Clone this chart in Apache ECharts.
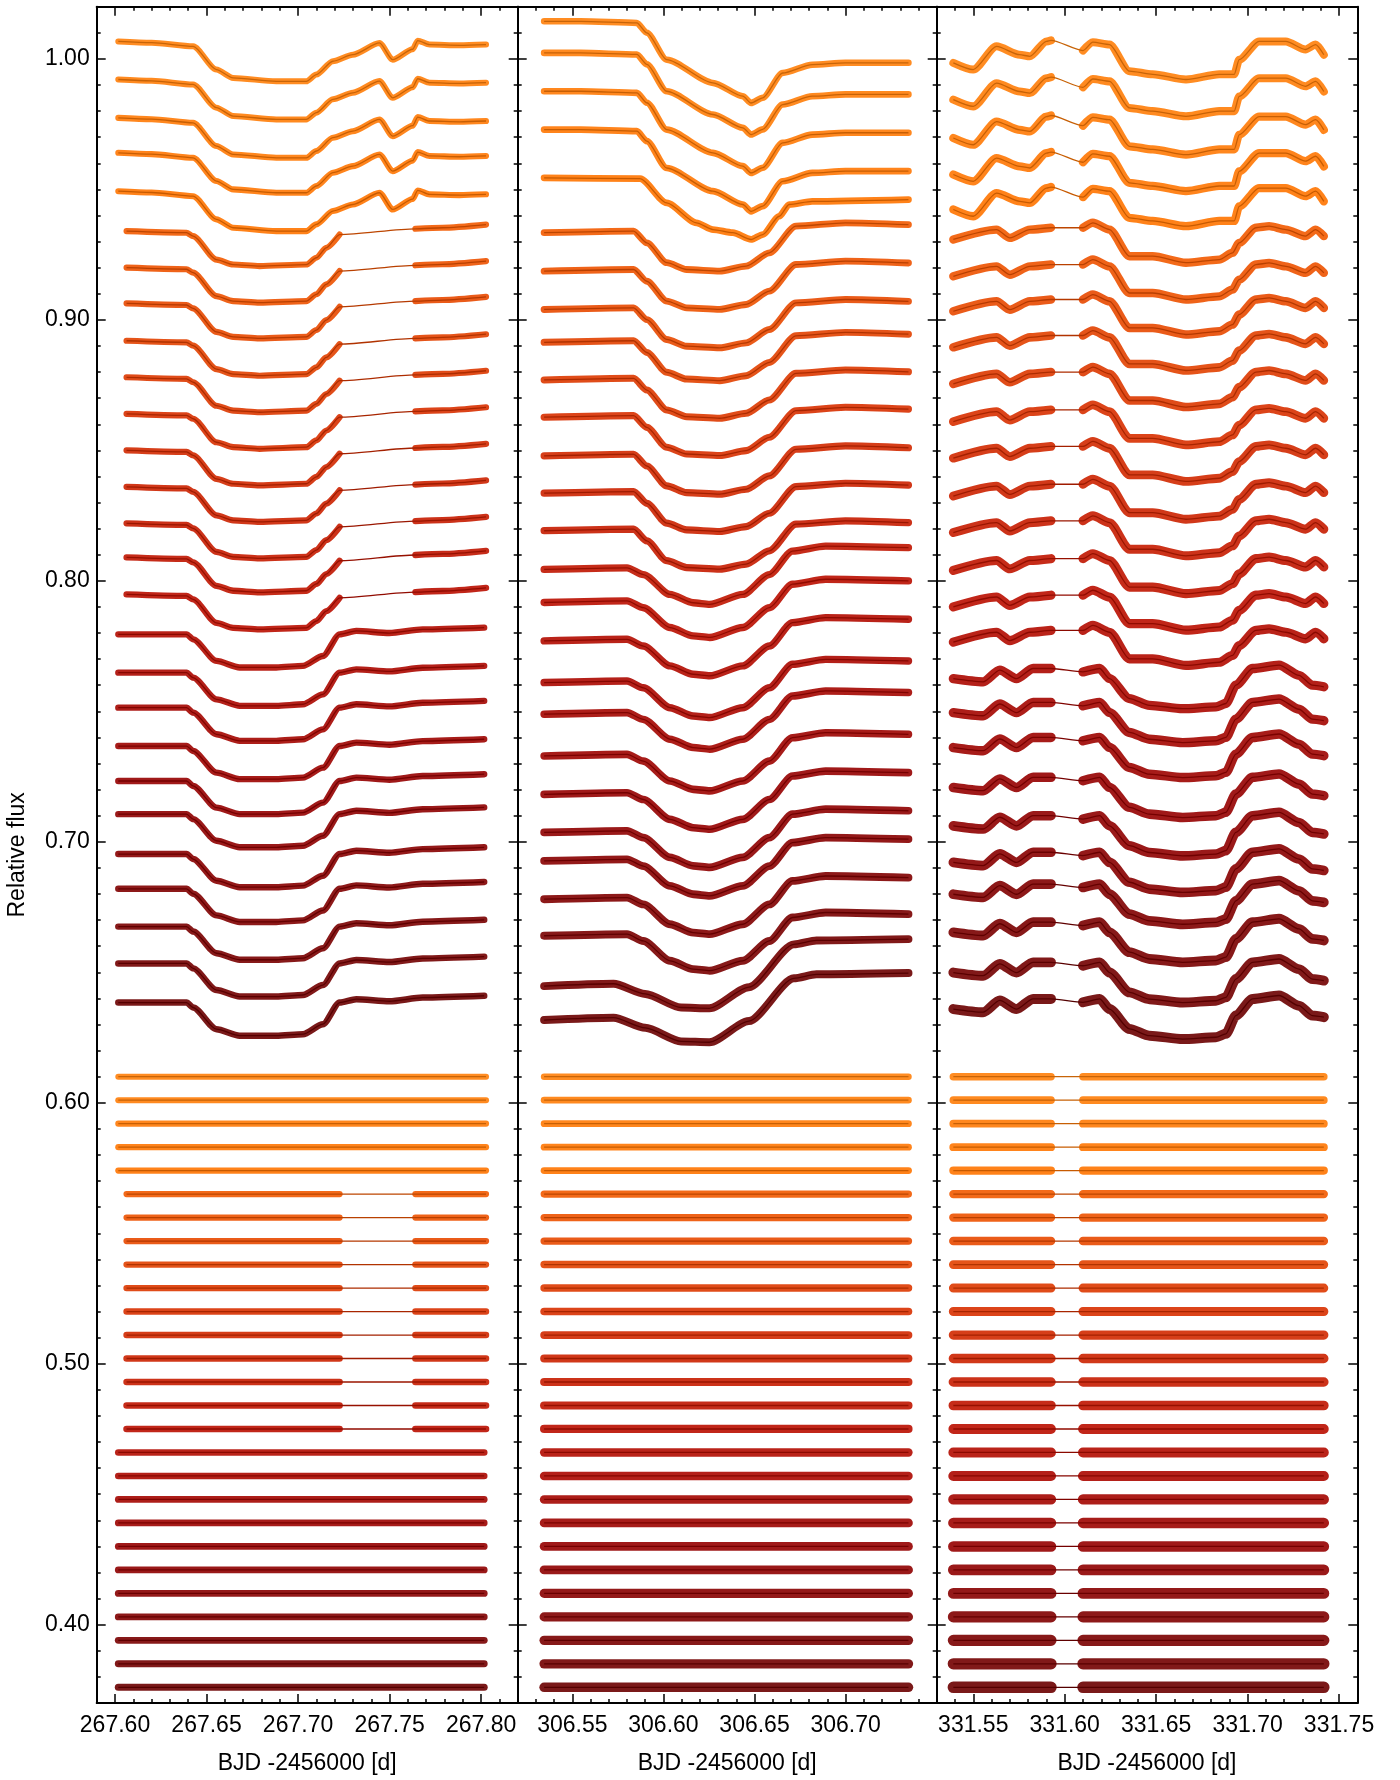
<!DOCTYPE html>
<html>
<head>
<meta charset="utf-8">
<script src="https://cdn.jsdelivr.net/npm/echarts@6/dist/echarts.min.js"></script>
<style>html,body{margin:0;padding:0;background:#fff}#chart{width:1400px;height:1780px}</style>
</head>
<body>
<div id="chart"></div>
<script>
// ---------------- DATA ----------------
// x ranges of the three panels (BJD - 2456000)
const xRange1 = [267.59, 267.82];
const xRange2 = [306.52, 306.75];
const xRange3 = [331.53, 331.76];
const xTicks1 = [267.60, 267.65, 267.70, 267.75, 267.80];
const xTicks2 = [306.55, 306.60, 306.65, 306.70];
const xTicks3 = [331.55, 331.60, 331.65, 331.70, 331.75];
const yRange = [0.37, 1.02];
const yTicks = [0.40, 0.50, 0.60, 0.70, 0.80, 0.90, 1.00];

// starting flux level of each of the 27 light curves (top to bottom)
const base1 = [1.0067, 0.9921, 0.9774, 0.9640, 0.9493, 0.9340, 0.9200, 0.9063, 0.8920, 0.8780, 0.8640, 0.8500, 0.8360, 0.8220, 0.8090, 0.7948, 0.7795, 0.7648, 0.7514, 0.7367, 0.7233, 0.7106, 0.6953, 0.6820, 0.6675, 0.6534, 0.6384];
const base2 = [1.0144, 1.0023, 0.9876, 0.9729, 0.9544, 0.9334, 0.9187, 0.9040, 0.8914, 0.8770, 0.8627, 0.8479, 0.8336, 0.8192, 0.8044, 0.7917, 0.7770, 0.7610, 0.7489, 0.7329, 0.7182, 0.7036, 0.6927, 0.6780, 0.6640, 0.6447, 0.6317];
const base3 = [0.9985, 0.9844, 0.9697, 0.9557, 0.9423, 0.9308, 0.9167, 0.9033, 0.8895, 0.8755, 0.8610, 0.8470, 0.8325, 0.8185, 0.8040, 0.7900, 0.7765, 0.7625, 0.7495, 0.7361, 0.7208, 0.7061, 0.6921, 0.6799, 0.6653, 0.6499, 0.6359];
// residual rows (same in the three panels)
const residBase = [0.610, 0.601, 0.592, 0.583, 0.574, 0.565, 0.556, 0.547, 0.538, 0.529, 0.520, 0.511, 0.502, 0.493, 0.484, 0.475, 0.466, 0.457, 0.448, 0.439, 0.430, 0.421, 0.412, 0.403, 0.394, 0.385, 0.376];

// which light-curve shape each row follows
const shape1 = ['A','A','A','A','A','B','B','B','B','B','B','B','B','B','B','B','C','C','C','C','C','C','C','C','C','C','C'];
const shape2 = ['A','A','A','A','E','B','B','B','B','B','B','B','B','B','C','C','C','C','C','C','C','C','C','C','C','D','D'];
const shape3 = ['A','A','A','A','A','B','B','B','B','B','B','B','B','B','B','B','B','C','C','C','C','C','C','C','C','C','C'];

// light-curve shapes: times and flux change relative to the starting level
const p1A_t  = [267.6018, 267.6200, 267.6427, 267.6554, 267.6645, 267.6881, 267.7045, 267.7100, 267.7190, 267.7299, 267.7445, 267.7517, 267.7626, 267.7654, 267.7718, 267.7881, 267.8027];
const p1A_dy = [0, -0.0005, -0.0019, -0.0108, -0.0140, -0.0153, -0.0153, -0.0127, -0.0076, -0.0051, -0.0006, -0.0070, -0.0030, 0.0003, -0.0012, -0.0015, -0.0012];
const p1B_t  = [267.6063, 267.6391, 267.6427, 267.6554, 267.6645, 267.6790, 267.7045, 267.7100, 267.7154, 267.7227, 267.7641, 267.7790, 267.8027];
const p1B_dy = [0, -0.0006, -0.0019, -0.0109, -0.0128, -0.0134, -0.0128, -0.0102, -0.0064, -0.0013, 0.0009, 0.0013, 0.0025];
const p1C_t  = [267.6018, 267.6391, 267.6427, 267.6554, 267.6681, 267.6881, 267.7027, 267.7136, 267.7227, 267.7318, 267.7499, 267.7681, 267.8017];
const p1C_dy = [0, 0, -0.0019, -0.0102, -0.0127, -0.0127, -0.0121, -0.0083, 0, 0.0013, 0.0005, 0.0019, 0.0026];

const p2A_t  = [306.5345, 306.5545, 306.5854, 306.5909, 306.6018, 306.6272, 306.6436, 306.6481, 306.6545, 306.6654, 306.6817, 306.6999, 306.7345];
const p2A_dy = [0, 0, -0.0006, -0.0044, -0.0147, -0.0236, -0.0287, -0.0313, -0.0293, -0.0198, -0.0166, -0.0159, -0.0159];
const p2E_t  = [306.5345, 306.5872, 306.6018, 306.6181, 306.6272, 306.6381, 306.6481, 306.6545, 306.6636, 306.6690, 306.6817, 306.7345];
const p2E_dy = [0, -0.0003, -0.0096, -0.0172, -0.0198, -0.0210, -0.0236, -0.0217, -0.0147, -0.0102, -0.0090, -0.0083];
const p2B_t  = [306.5345, 306.5836, 306.5909, 306.6018, 306.6127, 306.6309, 306.6454, 306.6581, 306.6727, 306.6999, 306.7345];
const p2B_dy = [0, 0.0006, -0.0039, -0.0115, -0.0141, -0.0147, -0.0128, -0.0077, 0.0025, 0.0038, 0.0031];
const p2C_t  = [306.5345, 306.5800, 306.5890, 306.6036, 306.6163, 306.6254, 306.6436, 306.6581, 306.6708, 306.6890, 306.7345];
const p2C_dy = [0, 0.0006, -0.0020, -0.0096, -0.0128, -0.0134, -0.0096, -0.0020, 0.0070, 0.0089, 0.0083];
const p2D_t  = [306.5345, 306.5726, 306.5900, 306.6097, 306.6252, 306.6469, 306.6716, 306.6840, 306.7345];
const p2D_dy = [0, 0.0009, -0.0030, -0.0082, -0.0085, -0.0004, 0.0160, 0.0175, 0.0180];

const p3A_t  = [331.5391, 331.5500, 331.5627, 331.5754, 331.5809, 331.5900, 331.5925, 331.6100, 331.6154, 331.6245, 331.6354, 331.6481, 331.6663, 331.6845, 331.6927, 331.6954, 331.7063, 331.7209, 331.7317, 331.7372, 331.7417];
const p3A_dy = [0, -0.0026, 0.0063, 0.0031, 0.0025, 0.0082, 0.0086, 0.0047, 0.0079, 0.0070, -0.0032, -0.0044, -0.0064, -0.0044, -0.0044, 0.0012, 0.0082, 0.0082, 0.0051, 0.0070, 0.0031];
const p3B_t  = [331.5391, 331.5627, 331.5700, 331.5809, 331.5925, 331.6100, 331.6154, 331.6245, 331.6354, 331.6481, 331.6663, 331.6845, 331.6918, 331.6954, 331.7045, 331.7118, 331.7209, 331.7317, 331.7372, 331.7417];
const p3B_dy = [0, 0.0038, 0.0006, 0.0038, 0.0045, 0.0045, 0.0064, 0.0038, -0.0064, -0.0064, -0.0089, -0.0077, -0.0051, -0.0013, 0.0045, 0.0051, 0.0038, 0.0013, 0.0038, 0.0013];
const p3C_t  = [331.5391, 331.5554, 331.5645, 331.5736, 331.5827, 331.5925, 331.6100, 331.6191, 331.6245, 331.6354, 331.6463, 331.6645, 331.6827, 331.6881, 331.6936, 331.7027, 331.7172, 331.7281, 331.7354, 331.7417];
const p3C_dy = [0, -0.0012, 0.0033, 0, 0.0039, 0.0039, 0.0026, 0.0039, 0, -0.0076, -0.0102, -0.0115, -0.0108, -0.0095, -0.0025, 0.0039, 0.0052, 0.0013, -0.0025, -0.0031];

// data gaps (no observations): panel 1 only for shape B, panel 3 for every row
const gap1 = [267.7227, 267.7641];
const gap3 = [331.5925, 331.6100];

// ---------------- BUILD ----------------
const FONT = 'Liberation Sans, Arial, Helvetica, sans-serif';
const FS = 23;
const panels = [
  {range: xRange1, ticks: xTicks1, base: base1, shape: shape1, gap: gap1,
   shapes: {A: [p1A_t, p1A_dy], B: [p1B_t, p1B_dy], C: [p1C_t, p1C_dy]}, gapShapes: ['B'],
   band: 6, bextra: 0.5, rband: 6, rextra: 1},
  {range: xRange2, ticks: xTicks2, base: base2, shape: shape2, gap: null,
   shapes: {A: [p2A_t, p2A_dy], B: [p2B_t, p2B_dy], C: [p2C_t, p2C_dy], D: [p2D_t, p2D_dy], E: [p2E_t, p2E_dy]}, gapShapes: [],
   band: 6.5, bextra: 1.5, rband: 6.5, rextra: 3},
  {range: xRange3, ticks: xTicks3, base: base3, shape: shape3, gap: gap3,
   shapes: {A: [p3A_t, p3A_dy], B: [p3B_t, p3B_dy], C: [p3C_t, p3C_dy]}, gapShapes: ['A','B','C'],
   band: 8, bextra: 2, rband: 7.5, rextra: 4}
];

// colour ramp (style): bright orange at the top, dark red at the bottom
const anchors = [[0,[255,128,10]],[4,[255,116,0]],[5,[242,90,0]],[10,[216,48,0]],[15,[186,14,0]],[20,[150,0,0]],[26,[108,0,0]]];
function rowColor(i, f) {
  let a = anchors[0], b = anchors[anchors.length-1];
  for (let k = 0; k < anchors.length-1; k++) {
    if (i >= anchors[k][0] && i <= anchors[k+1][0]) { a = anchors[k]; b = anchors[k+1]; break; }
  }
  const u = b[0] === a[0] ? 0 : (i - a[0]) / (b[0] - a[0]);
  const c = a[1].map((v, j) => Math.round((v + (b[1][j] - v) * u) * f));
  return 'rgb(' + c.join(',') + ')';
}

function withGap(pts, gap) {
  if (!gap) return pts;
  const out = [];
  for (let k = 0; k < pts.length; k++) {
    out.push(pts[k]);
    const n = pts[k+1];
    if (n && pts[k][0] <= gap[0] + 1e-6 && n[0] >= gap[1] - 1e-6) out.push([(pts[k][0]+n[0])/2, '-']);
  }
  return out;
}

const grids = [], xAxes = [], yAxes = [], series = [];
const gridLeft = [96.7, 517.7, 936.7];
const gridWidth = [421, 419, 420.6];
const TOP = 6.7, HEIGHT = 1697.6;
const axisLineStyle = {color: '#000', width: 2};

panels.forEach((p, g) => {
  grids.push({left: gridLeft[g], top: TOP, width: gridWidth[g], height: HEIGHT, containLabel: false});
  ['bottom', 'top'].forEach(pos => {
    xAxes.push({gridIndex: g, type: 'value', position: pos, min: p.range[0], max: p.range[1], interval: 0.01,
      axisLine: {show: true, onZero: false, lineStyle: axisLineStyle},
      axisTick: {show: true, inside: true, length: 4, lineStyle: {color: '#000', width: 1.5}},
      axisLabel: {show: false}, splitLine: {show: false}});
    const major = {gridIndex: g, type: 'value', position: pos, min: p.range[0], max: p.range[1],
      axisLine: {show: false, onZero: false},
      axisTick: {show: true, inside: true, length: 9, customValues: p.ticks, lineStyle: {color: '#000', width: 1.5}},
      axisLabel: {show: pos === 'bottom', customValues: p.ticks, formatter: v => v.toFixed(2),
        fontSize: FS, color: '#000', fontFamily: FONT, margin: 11},
      splitLine: {show: false}};
    if (pos === 'bottom') {
      major.name = 'BJD -2456000 [d]';
      major.nameLocation = 'middle';
      major.nameGap = 49;
      major.nameTextStyle = {fontSize: FS, color: '#000', fontFamily: FONT};
    }
    xAxes.push(major);
  });
  ['left', 'right'].forEach(pos => {
    yAxes.push({gridIndex: g, type: 'value', position: pos, min: yRange[0], max: yRange[1], interval: 0.01,
      axisLine: {show: true, onZero: false, lineStyle: axisLineStyle},
      axisTick: {show: true, inside: true, length: 4, lineStyle: {color: '#000', width: 1.5}},
      axisLabel: {show: false}, splitLine: {show: false}});
    const major = {gridIndex: g, type: 'value', position: pos, min: yRange[0], max: yRange[1],
      axisLine: {show: false, onZero: false},
      axisTick: {show: true, inside: true, length: 9, customValues: yTicks, lineStyle: {color: '#000', width: 1.5}},
      axisLabel: {show: g === 0 && pos === 'left', customValues: yTicks, formatter: v => v.toFixed(2),
        fontSize: FS, color: '#000', fontFamily: FONT, margin: 7},
      splitLine: {show: false}};
    if (g === 0 && pos === 'left') {
      major.name = 'Relative flux';
      major.nameLocation = 'middle';
      major.nameRotate = 90;
      major.nameGap = 68;
      major.nameTextStyle = {fontSize: FS, color: '#000', fontFamily: FONT};
    }
    yAxes.push(major);
  });

  const xi = g * 4, yi = g * 4;
  p.base.forEach((b, i) => {
    const key = p.shape[i];
    const [ts, dys] = p.shapes[key];
    const pts = ts.map((t, k) => [t, +(b + dys[k]).toFixed(5)]);
    const hasGap = p.gapShapes.indexOf(key) >= 0;
    const gap = hasGap ? p.gap : null;
    const col = rowColor(i, 1), dark = rowColor(i, 0.78);
    const common = {type: 'line', xAxisIndex: xi, yAxisIndex: yi, showSymbol: false, symbol: 'none',
      animation: false, silent: true, smooth: 0.25, smoothMonotone: 'x', connectNulls: false};
    // observed light curve (dense points shown as a band)
    series.push(Object.assign({}, common, {data: withGap(pts, gap), z: 2,
      lineStyle: {color: col, width: p.band + p.bextra * i / 26, opacity: 0.9, cap: 'round', join: 'round'}}));
    // fitted model
    series.push(Object.assign({}, common, {data: pts, z: 3,
      lineStyle: {color: dark, width: 1.3}}));
    // residuals
    const r = residBase[i];
    const t0 = ts[0], t1 = ts[ts.length-1];
    let rpts = [[t0, r], [t1, r]];
    let rband = rpts;
    if (gap) {
      rpts = [[t0, r], [gap[0], r], [gap[1], r], [t1, r]];
      rband = [[t0, r], [gap[0], r], [(gap[0]+gap[1])/2, '-'], [gap[1], r], [t1, r]];
    }
    series.push(Object.assign({}, common, {data: rband, z: 2, smooth: false,
      lineStyle: {color: col, width: p.rband + p.rextra * i / 26, opacity: 0.9, cap: 'round'}}));
    series.push(Object.assign({}, common, {data: rpts, z: 3, smooth: false,
      lineStyle: {color: dark, width: 1.3}}));
  });
});

const chart = echarts.init(document.getElementById('chart'), null, {renderer: 'canvas'});
chart.setOption({
  animation: false,
  backgroundColor: '#fff',
  grid: grids,
  xAxis: xAxes,
  yAxis: yAxes,
  series: series
});
</script>
</body>
</html>
